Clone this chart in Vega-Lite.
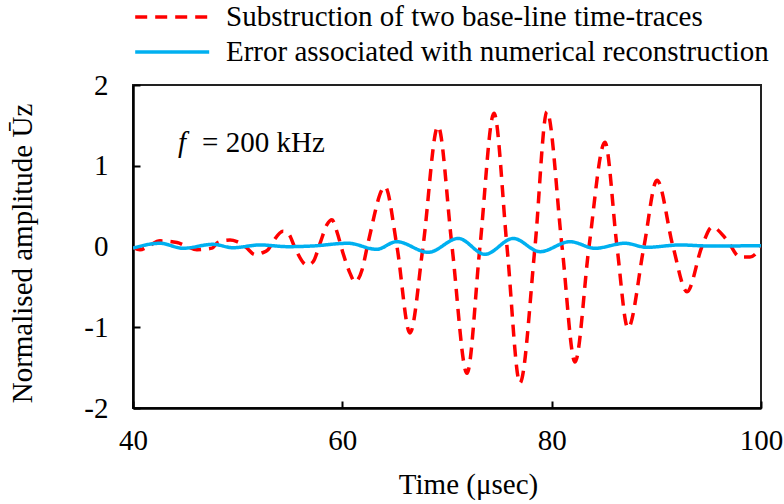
{
  "$schema": "https://vega.github.io/schema/vega-lite/v6.json",
  "autosize": {"type": "none"},
  "width": 628,
  "height": 323,
  "padding": {"left": 133, "top": 85, "right": 23, "bottom": 96},
  "background": "white",
  "config": {
    "font": "Liberation Serif",
    "view": {"stroke": "#222222", "strokeWidth": 2},
    "axis": {
      "labelFont": "Liberation Serif",
      "titleFont": "Liberation Serif",
      "labelFontSize": 29,
      "titleFontSize": 29,
      "labelColor": "black",
      "titleColor": "black",
      "titleFontWeight": "normal",
      "domainColor": "black",
      "domainWidth": 2.5,
      "tickColor": "black",
      "tickWidth": 2,
      "tickSize": -7,
      "grid": false
    },
    "legend": {
      "labelFont": "Liberation Serif",
      "labelFontSize": 29,
      "labelColor": "black",
      "labelLimit": 0
    }
  },
  "layer": [
    {
      "data": {
        "values": [
          {"series": "Substruction of two base-line time-traces", "t": 40.00, "v": -0.01},
          {"series": "Substruction of two base-line time-traces", "t": 40.67, "v": -0.04},
          {"series": "Substruction of two base-line time-traces", "t": 41.43, "v": 0.00},
          {"series": "Substruction of two base-line time-traces", "t": 42.58, "v": 0.07},
          {"series": "Substruction of two base-line time-traces", "t": 44.20, "v": 0.05},
          {"series": "Substruction of two base-line time-traces", "t": 45.16, "v": 0.00},
          {"series": "Substruction of two base-line time-traces", "t": 46.11, "v": -0.04},
          {"series": "Substruction of two base-line time-traces", "t": 47.55, "v": -0.02},
          {"series": "Substruction of two base-line time-traces", "t": 48.12, "v": 0.05},
          {"series": "Substruction of two base-line time-traces", "t": 49.27, "v": 0.08},
          {"series": "Substruction of two base-line time-traces", "t": 49.94, "v": 0.06},
          {"series": "Substruction of two base-line time-traces", "t": 50.80, "v": -0.01},
          {"series": "Substruction of two base-line time-traces", "t": 51.66, "v": -0.10},
          {"series": "Substruction of two base-line time-traces", "t": 52.32, "v": -0.08},
          {"series": "Substruction of two base-line time-traces", "t": 52.90, "v": -0.04},
          {"series": "Substruction of two base-line time-traces", "t": 53.38, "v": 0.06},
          {"series": "Substruction of two base-line time-traces", "t": 54.33, "v": 0.19},
          {"series": "Substruction of two base-line time-traces", "t": 54.90, "v": 0.15},
          {"series": "Substruction of two base-line time-traces", "t": 55.48, "v": -0.02},
          {"series": "Substruction of two base-line time-traces", "t": 56.62, "v": -0.23},
          {"series": "Substruction of two base-line time-traces", "t": 57.20, "v": -0.19},
          {"series": "Substruction of two base-line time-traces", "t": 57.87, "v": 0.04},
          {"series": "Substruction of two base-line time-traces", "t": 58.53, "v": 0.27},
          {"series": "Substruction of two base-line time-traces", "t": 59.01, "v": 0.33},
          {"series": "Substruction of two base-line time-traces", "t": 59.49, "v": 0.18},
          {"series": "Substruction of two base-line time-traces", "t": 60.06, "v": -0.08},
          {"series": "Substruction of two base-line time-traces", "t": 60.73, "v": -0.33},
          {"series": "Substruction of two base-line time-traces", "t": 61.21, "v": -0.44},
          {"series": "Substruction of two base-line time-traces", "t": 61.88, "v": -0.29},
          {"series": "Substruction of two base-line time-traces", "t": 62.45, "v": 0.04},
          {"series": "Substruction of two base-line time-traces", "t": 64.08, "v": 0.74},
          {"series": "Substruction of two base-line time-traces", "t": 65.22, "v": 0.0},
          {"series": "Substruction of two base-line time-traces", "t": 66.46, "v": -1.07},
          {"series": "Substruction of two base-line time-traces", "t": 67.71, "v": 0.0},
          {"series": "Substruction of two base-line time-traces", "t": 69.14, "v": 1.49},
          {"series": "Substruction of two base-line time-traces", "t": 70.48, "v": 0.0},
          {"series": "Substruction of two base-line time-traces", "t": 71.91, "v": -1.57},
          {"series": "Substruction of two base-line time-traces", "t": 73.15, "v": 0.0},
          {"series": "Substruction of two base-line time-traces", "t": 74.49, "v": 1.65},
          {"series": "Substruction of two base-line time-traces", "t": 75.73, "v": 0.0},
          {"series": "Substruction of two base-line time-traces", "t": 76.97, "v": -1.69},
          {"series": "Substruction of two base-line time-traces", "t": 78.41, "v": 0.0},
          {"series": "Substruction of two base-line time-traces", "t": 79.55, "v": 1.67},
          {"series": "Substruction of two base-line time-traces", "t": 80.99, "v": 0.0},
          {"series": "Substruction of two base-line time-traces", "t": 82.23, "v": -1.43},
          {"series": "Substruction of two base-line time-traces", "t": 83.57, "v": 0.0},
          {"series": "Substruction of two base-line time-traces", "t": 85.09, "v": 1.29},
          {"series": "Substruction of two base-line time-traces", "t": 86.24, "v": 0.0},
          {"series": "Substruction of two base-line time-traces", "t": 87.29, "v": -1.01},
          {"series": "Substruction of two base-line time-traces", "t": 88.82, "v": 0.0},
          {"series": "Substruction of two base-line time-traces", "t": 90.06, "v": 0.82},
          {"series": "Substruction of two base-line time-traces", "t": 91.59, "v": 0.0},
          {"series": "Substruction of two base-line time-traces", "t": 92.93, "v": -0.56},
          {"series": "Substruction of two base-line time-traces", "t": 94.36, "v": 0.0},
          {"series": "Substruction of two base-line time-traces", "t": 95.32, "v": 0.24},
          {"series": "Substruction of two base-line time-traces", "t": 96.75, "v": 0.08},
          {"series": "Substruction of two base-line time-traces", "t": 97.99, "v": -0.13},
          {"series": "Substruction of two base-line time-traces", "t": 98.95, "v": -0.13},
          {"series": "Substruction of two base-line time-traces", "t": 100.0, "v": -0.01},
          {"series": "Error associated with numerical reconstruction", "t": 40.00, "v": -0.02},
          {"series": "Error associated with numerical reconstruction", "t": 42.58, "v": 0.04},
          {"series": "Error associated with numerical reconstruction", "t": 44.78, "v": -0.022},
          {"series": "Error associated with numerical reconstruction", "t": 47.64, "v": 0.027},
          {"series": "Error associated with numerical reconstruction", "t": 49.55, "v": -0.015},
          {"series": "Error associated with numerical reconstruction", "t": 52.13, "v": 0.019},
          {"series": "Error associated with numerical reconstruction", "t": 54.81, "v": -0.002},
          {"series": "Error associated with numerical reconstruction", "t": 57.10, "v": 0.006},
          {"series": "Error associated with numerical reconstruction", "t": 60.54, "v": 0.04},
          {"series": "Error associated with numerical reconstruction", "t": 63.28, "v": -0.035},
          {"series": "Error associated with numerical reconstruction", "t": 65.19, "v": 0.06},
          {"series": "Error associated with numerical reconstruction", "t": 68.21, "v": -0.072},
          {"series": "Error associated with numerical reconstruction", "t": 71.08, "v": 0.10},
          {"series": "Error associated with numerical reconstruction", "t": 73.63, "v": -0.097},
          {"series": "Error associated with numerical reconstruction", "t": 76.33, "v": 0.10},
          {"series": "Error associated with numerical reconstruction", "t": 78.88, "v": -0.064},
          {"series": "Error associated with numerical reconstruction", "t": 81.75, "v": 0.06},
          {"series": "Error associated with numerical reconstruction", "t": 84.14, "v": -0.022},
          {"series": "Error associated with numerical reconstruction", "t": 87.00, "v": 0.04},
          {"series": "Error associated with numerical reconstruction", "t": 89.08, "v": -0.01},
          {"series": "Error associated with numerical reconstruction", "t": 92.26, "v": 0.019},
          {"series": "Error associated with numerical reconstruction", "t": 95.13, "v": 0.006},
          {"series": "Error associated with numerical reconstruction", "t": 100.0, "v": 0.01}
        ]
      },
      "mark": {"type": "line", "interpolate": "monotone", "strokeWidth": 3.5, "clip": true},
      "encoding": {
        "x": {
          "field": "t", "type": "quantitative",
          "scale": {"domain": [40, 100], "nice": false, "zero": false},
          "axis": {
            "title": "Time (μsec)",
            "values": [40, 60, 80, 100],
            "labelFlush": false,
            "labelPadding": 25,
            "titleX": 335,
            "titleY": 85,
            "titleBaseline": "alphabetic"
          }
        },
        "y": {
          "field": "v", "type": "quantitative",
          "scale": {"domain": [-2, 2], "nice": false},
          "axis": {
            "title": "Normalised amplitude Ūz",
            "values": [-2, -1, 0, 1, 2],
            "labelExpr": "datum.value < 0 ? '-' + abs(datum.value) : '' + datum.value",
            "labelPadding": 32,
            "titleX": -111,
            "titleY": 168,
            "titleBaseline": "middle"
          }
        },
        "color": {
          "field": "series", "type": "nominal",
          "sort": ["Substruction of two base-line time-traces", "Error associated with numerical reconstruction"],
          "scale": {
            "domain": ["Substruction of two base-line time-traces", "Error associated with numerical reconstruction"],
            "range": ["#FF0000", "#00B0F0"]
          },
          "legend": {
            "title": null,
            "orient": "none",
            "legendX": 0,
            "legendY": -85,
            "direction": "vertical",
            "symbolType": "M-1,0H4",
            "symbolSize": 876,
            "symbolStrokeWidth": 3.5,
            "labelOffset": 59,
            "rowPadding": 3
          }
        },
        "strokeDash": {
          "field": "series", "type": "nominal",
          "scale": {
            "domain": ["Substruction of two base-line time-traces", "Error associated with numerical reconstruction"],
            "range": [[12, 8], [1, 0]]
          },
          "legend": null
        }
      }
    },
    {
      "data": {"values": [{"t": 44.3, "v": 1.28, "label": "f"}]},
      "mark": {"type": "text", "font": "Liberation Serif", "fontStyle": "italic", "fontSize": 29, "align": "left", "baseline": "middle", "color": "black"},
      "encoding": {
        "x": {"field": "t", "type": "quantitative"},
        "y": {"field": "v", "type": "quantitative"},
        "text": {"field": "label"}
      }
    },
    {
      "data": {"values": [{"t": 46.6, "v": 1.28, "label": "= 200 kHz"}]},
      "mark": {"type": "text", "font": "Liberation Serif", "fontSize": 29, "align": "left", "baseline": "middle", "color": "black"},
      "encoding": {
        "x": {"field": "t", "type": "quantitative"},
        "y": {"field": "v", "type": "quantitative"},
        "text": {"field": "label"}
      }
    }
  ]
}
